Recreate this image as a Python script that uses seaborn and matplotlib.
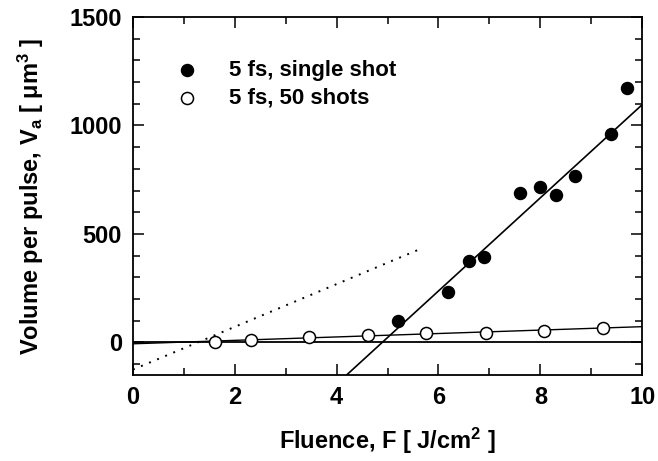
import matplotlib
matplotlib.use('Agg')
import matplotlib.pyplot as plt
import seaborn as sns
import pandas as pd
from matplotlib.ticker import MultipleLocator

# measured points
single_F = [5.20, 6.19, 6.59, 6.90, 7.60, 8.00, 8.30, 8.69, 9.39, 9.70]
single_V = [97, 232, 375, 394, 689, 715, 678, 769, 960, 1171]
multi_F = [1.62, 2.31, 3.46, 4.61, 5.76, 6.93, 8.08, 9.23]
multi_V = [0, 10, 26, 34, 45, 45, 54, 65]

# fitted lines (end points)
single_fit_F = [4.20, 10.0]
single_fit_V = [-150, 1096]
multi_fit_F = [0.0, 10.0]
multi_fit_V = [-7, 72]
dotted_F = [0.0, 5.70]
dotted_V = [-126, 436]
zero_F = [0.0, 10.0]
zero_V = [0, 0]

sns.set_style('ticks')
plt.rcParams['font.family'] = ['Liberation Sans', 'DejaVu Sans']
plt.rcParams['font.weight'] = 'bold'
plt.rcParams['text.color'] = 'black'
plt.rcParams['axes.labelcolor'] = 'black'
plt.rcParams['xtick.color'] = 'black'
plt.rcParams['ytick.color'] = 'black'
plt.rcParams['axes.edgecolor'] = 'black'
plt.rcParams['axes.linewidth'] = 1.3
plt.rcParams['mathtext.fontset'] = 'custom'
plt.rcParams['mathtext.rm'] = 'Liberation Sans:bold'
plt.rcParams['mathtext.default'] = 'rm'

fig = plt.figure(figsize=(6.58, 4.61), dpi=100)
ax = fig.add_axes([0.202, 0.187, 0.774, 0.776])

df_single = pd.DataFrame({'F': single_F, 'V': single_V})
df_multi = pd.DataFrame({'F': multi_F, 'V': multi_V})

sns.lineplot(x=zero_F, y=zero_V, ax=ax, color='black', lw=1.3)
sns.lineplot(x=single_fit_F, y=single_fit_V, ax=ax, color='black', lw=1.2)
sns.lineplot(x=multi_fit_F, y=multi_fit_V, ax=ax, color='black', lw=1.0)
sns.lineplot(x=dotted_F, y=dotted_V, ax=ax, color='black', lw=1.4, linestyle=(0, (1, 3.5)))

sns.scatterplot(data=df_single, x='F', y='V', ax=ax, color='black', s=75,
                edgecolor='black', linewidth=1, label='5 fs, single shot', zorder=5)
sns.scatterplot(data=df_multi, x='F', y='V', ax=ax, color='white', s=75,
                edgecolor='black', linewidth=1.1, label='5 fs, 50 shots', zorder=5)

ax.set_xlim(0, 10)
ax.set_ylim(-150, 1500)
ax.xaxis.set_major_locator(MultipleLocator(2))
ax.xaxis.set_minor_locator(MultipleLocator(1))
ax.yaxis.set_major_locator(MultipleLocator(500))
ax.yaxis.set_minor_locator(MultipleLocator(100))
ax.tick_params(which='both', direction='in', top=True, right=True, width=1.1, labelsize=17, pad=8)
ax.tick_params(which='major', length=8)
ax.tick_params(which='minor', length=5)
for lab in ax.get_xticklabels() + ax.get_yticklabels():
    lab.set_fontweight('bold')

ax.set_xlabel('Fluence, F [ J/cm$^{2}$ ]', fontsize=17, fontweight='bold', labelpad=12)
ax.set_ylabel('Volume per pulse, V$_{a}$ [ $\\mu$m$^{3}$ ]', fontsize=17, fontweight='bold', labelpad=17)

leg = ax.legend(loc='upper left', bbox_to_anchor=(0.045, 0.905), frameon=False,
                prop={'size': 16, 'weight': 'bold'}, handletextpad=0.9,
                labelspacing=0.3, borderaxespad=0)

fig.savefig('out.png', dpi=100)
